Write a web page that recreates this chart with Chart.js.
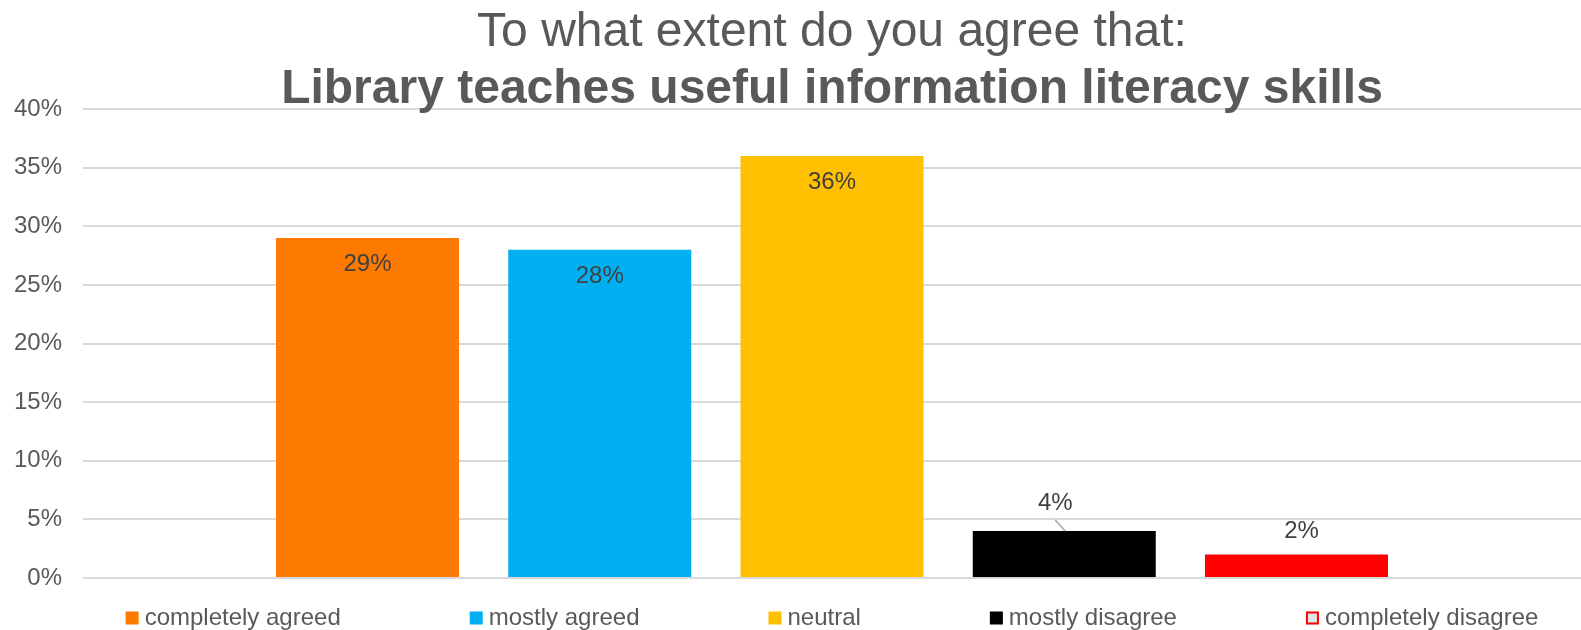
<!DOCTYPE html>
<html>
<head>
<meta charset="utf-8">
<script src="https://cdn.jsdelivr.net/npm/chart.js@4/dist/chart.umd.min.js"></script>
<style>
  html, body { margin: 0; padding: 0; background: #fff; overflow: hidden; }
  #wrap { position: relative; width: 1581px; height: 630px; }
</style>
</head>
<body>
<div id="wrap"><canvas id="myChart" width="1581" height="630"></canvas></div>
<script>
// Data
const question = "Library teaches useful information literacy skills";
const answers = ["completely agreed", "mostly agreed", "neutral", "mostly disagree", "completely disagree"];
const shares = [29, 28, 36, 4, 2];
const yTicks = [0, 5, 10, 15, 20, 25, 30, 35, 40];

// Styles
const colors = ["#FF7B00", "#00B0F0", "#FFC000", "#000000", "#FF0000"];
const legendFill = ["#FF7B00", "#00B0F0", "#FFC000", "#000000", "#DFE5E8"];
const legendStroke = [null, null, null, null, "#FF0000"];
const labelShiftX = [0, 0, 0, -9, 5];
const labelShiftY = [0, 0, 0, -28, -23];
const fontFamily = "'Liberation Sans', Arial, sans-serif";
const ctx = document.getElementById("myChart").getContext("2d");

// value labels on bars
const barLabels = {
  id: "barLabels",
  afterDatasetsDraw(chart) {
    const c = chart.ctx;
    c.save();
    c.font = "24px " + fontFamily;
    c.fillStyle = "#404040";
    c.textAlign = "center";
    c.textBaseline = "middle";
    chart.data.datasets.forEach((ds, i) => {
      const bar = chart.getDatasetMeta(i).data[0];
      if (!bar) return;
      const txt = ds.data[0] + "%";
      if (bar.base - bar.y > 60) {
        c.fillText(txt, bar.x, bar.y + 26.5);
      } else {
        const lx = bar.x + labelShiftX[i];
        const ly = bar.y + labelShiftY[i];
        c.fillText(txt, lx, ly);
        if (labelShiftX[i] < 0) {
          c.strokeStyle = "#a6a6a6";
          c.lineWidth = 1.5;
          c.beginPath();
          c.moveTo(lx, ly + 17);
          c.lineTo(bar.x + 1, bar.y);
          c.stroke();
        }
      }
    });
    c.restore();
  }
};

// legend row under the plot
const bottomLegend = {
  id: "bottomLegend",
  afterDraw(chart) {
    const c = chart.ctx;
    const area = chart.chartArea;
    const box = 13, gapText = 6, gapItem = 129;
    c.save();
    c.font = "24px " + fontFamily;
    const widths = chart.data.datasets.map((ds) => box + gapText + c.measureText(ds.label).width);
    const total = widths.reduce((a, b) => a + b, 0) + gapItem * (widths.length - 1);
    let x = (area.left + area.right) / 2 - total / 2;
    const baseline = 624.5;
    chart.data.datasets.forEach((ds, i) => {
      c.fillStyle = legendFill[i];
      c.fillRect(x, baseline - 13, box, box);
      if (legendStroke[i]) {
        c.strokeStyle = legendStroke[i];
        c.lineWidth = 2;
        c.strokeRect(x + 1, baseline - 12, box - 2, box - 2);
      }
      c.fillStyle = "#595959";
      c.textAlign = "left";
      c.textBaseline = "alphabetic";
      c.fillText(ds.label, x + box + gapText, baseline);
      x += widths[i] + gapItem;
    });
    c.restore();
  }
};

const myChart = new Chart(ctx, {
  type: "bar",
  data: {
    labels: [question],
    datasets: answers.map((name, i) => ({
      label: name,
      data: [shares[i]],
      backgroundColor: colors[i],
      borderWidth: 0,
      categoryPercentage: 0.7752,
      barPercentage: 0.788
    }))
  },
  options: {
    responsive: false,
    animation: false,
    layout: { padding: { left: 0, right: 0, top: 0, bottom: 52 } },
    plugins: {
      legend: { display: false },
      tooltip: { enabled: false },
      title: {
        display: true,
        fullSize: false,
        text: "To what extent do you agree that:",
        color: "#595959",
        font: { family: fontFamily, size: 48, weight: "normal", lineHeight: 1 },
        padding: { top: 8.5, bottom: 13.8 }
      },
      subtitle: {
        display: true,
        fullSize: false,
        text: question,
        color: "#595959",
        font: { family: fontFamily, size: 48, weight: "bold", lineHeight: 0.8 },
        padding: { top: 0, bottom: 0.3 }
      }
    },
    scales: {
      x: { display: false },
      y: {
        min: yTicks[0],
        max: yTicks[yTicks.length - 1],
        afterBuildTicks: (axis) => {
          axis.ticks = yTicks.map((v) => ({ value: v }));
        },
        afterFit: (axis) => {
          axis.width = 83;
        },
        border: { display: false },
        grid: { color: "#d9d9d9", lineWidth: 2, drawTicks: false },
        ticks: {
          padding: 21,
          color: "#595959",
          font: { family: fontFamily, size: 24 },
          callback: (v) => v + "%"
        }
      }
    }
  },
  plugins: [barLabels, bottomLegend]
});
</script>
</body>
</html>
